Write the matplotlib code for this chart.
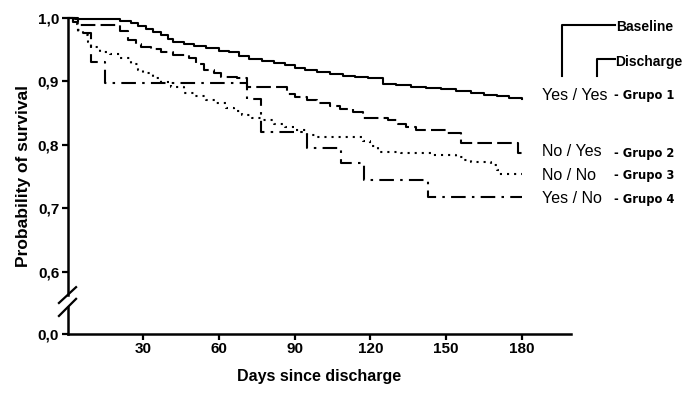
import matplotlib
matplotlib.use("Agg")
import matplotlib.pyplot as plt
from matplotlib.lines import Line2D

# Kaplan-Meier style step data (days, probability)
g1_days = [0, 3, 21, 25, 28, 31, 34, 37, 40, 42, 46, 50, 55, 60, 64, 68, 72, 77, 82, 86,
           90, 94, 99, 104, 109, 114, 119, 125, 130, 136, 142, 148, 154, 160, 165, 170, 175, 180]
g1_surv = [1.0, 0.997, 0.994, 0.991, 0.986, 0.982, 0.977, 0.972, 0.966, 0.961, 0.958, 0.955,
           0.952, 0.948, 0.945, 0.940, 0.935, 0.932, 0.929, 0.925, 0.921, 0.917, 0.914, 0.911,
           0.908, 0.906, 0.905, 0.896, 0.893, 0.891, 0.889, 0.887, 0.884, 0.881, 0.878, 0.876,
           0.873, 0.872]

g2_days = [0, 2, 5, 21, 24, 27, 29, 33, 37, 42, 48, 51, 54, 58, 61, 67, 71, 87, 90, 95, 99,
           104, 108, 113, 117, 127, 131, 134, 138, 150, 156, 178.5, 180]
g2_surv = [1.0, 0.993, 0.988, 0.978, 0.965, 0.958, 0.954, 0.950, 0.946, 0.941, 0.936, 0.927,
           0.917, 0.912, 0.906, 0.905, 0.890, 0.880, 0.875, 0.870, 0.865, 0.860, 0.856, 0.851,
           0.842, 0.838, 0.833, 0.828, 0.823, 0.818, 0.803, 0.787, 0.787]

g3_days = [0, 2, 4, 6, 8, 9.5, 13, 17, 21, 25, 28, 30, 34, 37, 41, 46, 50, 55, 59, 63, 66,
           69, 73, 77, 82, 86, 90, 95, 98, 117, 120, 123, 132, 145, 154, 157, 160, 168, 170,
           171, 180]
g3_surv = [1.0, 0.990, 0.980, 0.972, 0.962, 0.954, 0.946, 0.942, 0.936, 0.927, 0.918, 0.912,
           0.905, 0.899, 0.890, 0.881, 0.876, 0.870, 0.865, 0.858, 0.852, 0.846, 0.842, 0.838,
           0.833, 0.828, 0.823, 0.815, 0.812, 0.805, 0.797, 0.788, 0.786, 0.783, 0.780, 0.776,
           0.772, 0.768, 0.760, 0.753, 0.753]

g4_days = [0, 4, 9.5, 15, 71, 76.5, 95, 108.5, 117.5, 143, 180]
g4_surv = [1.0, 0.975, 0.930, 0.897, 0.872, 0.820, 0.795, 0.771, 0.744, 0.717, 0.717]

x_ticks = [30, 60, 90, 120, 150, 180]
y_zero = 0.5016  # where "0,0" sits on the broken axis
y_ticks = [y_zero, 0.6, 0.7, 0.8, 0.9, 1.0]
y_labels = ["0,0", "0,6", "0,7", "0,8", "0,9", "1,0"]

group_names = ["Yes / Yes", "No / Yes", "No / No", "Yes / No"]
group_tags = ["- Grupo 1", "- Grupo 2", "- Grupo 3", "- Grupo 4"]
label_y_px = [95, 152, 175, 198]

W, H = 695, 397
plt.rcParams['font.family'] = ['Liberation Sans', 'DejaVu Sans']

fig = plt.figure(figsize=(W / 100, H / 100), dpi=100)
ax = fig.add_axes([67.5 / W, (H - 334) / H, (571 - 67.5) / W, (334 - 17.5) / H])

lw = 1.5
ax.step(g1_days, g1_surv, where='post', color='black', lw=lw, clip_on=False)
ax.step(g2_days, g2_surv, where='post', color='black', lw=lw, linestyle=(0, (7, 2.5)), clip_on=False)
ax.step(g3_days, g3_surv, where='post', color='black', lw=lw, linestyle=(0, (1, 2.4)), clip_on=False)
ax.step(g4_days, g4_surv, where='post', color='black', lw=lw, linestyle=(0, (7, 3, 1.2, 3)), clip_on=False)

ax.set_xlim(0, 199.5)
ax.set_ylim(y_zero, 1.0)
ax.set_xticks(x_ticks)
ax.set_yticks(y_ticks)
ax.set_yticklabels(y_labels)
ax.tick_params(axis='both', direction='out', width=1.6, length=4.5, labelsize=11, pad=1.5)
for lab in ax.get_xticklabels() + ax.get_yticklabels():
    lab.set_fontweight('bold')

for s in ['top', 'right', 'left']:
    ax.spines[s].set_visible(False)
ax.spines['bottom'].set_linewidth(1.8)

# broken y axis
ax.plot([0, 0], [0, 0.084], transform=ax.transAxes, color='black', lw=1.8, clip_on=False)
ax.plot([0, 0], [0.123, 1.0], transform=ax.transAxes, color='black', lw=1.8, clip_on=False)
ax.plot([-0.017, 0.017], [0.098, 0.148], transform=ax.transAxes, color='black', lw=1.6, clip_on=False)
ax.plot([-0.017, 0.017], [0.057, 0.111], transform=ax.transAxes, color='black', lw=1.6, clip_on=False)

ax.set_xlabel("Days since discharge", fontsize=11.5, fontweight='bold', labelpad=9)
ax.set_ylabel("Probability of survival", fontsize=12.5, fontweight='bold', labelpad=5)

# group labels on the right
for name, tag, py in zip(group_names, group_tags, label_y_px):
    fig.text(542 / W, 1 - py / H, name, fontsize=11.5, va='center', ha='left')
    fig.text(614 / W, 1 - (py + 1) / H, tag, fontsize=8.3, fontweight='bold',
             family='DejaVu Sans', va='center', ha='left')

# Baseline / Discharge brackets
fig.add_artist(Line2D([562 / W, 562 / W, 615 / W], [1 - 76 / H, 1 - 25 / H, 1 - 25 / H],
                      color='black', lw=1.5))
fig.add_artist(Line2D([597 / W, 597 / W, 615 / W], [1 - 76 / H, 1 - 59 / H, 1 - 59 / H],
                      color='black', lw=1.5))
fig.text(616 / W, 1 - 27 / H, "Baseline", fontsize=10, fontweight='bold', va='center', ha='left')
fig.text(615 / W, 1 - 62 / H, "Discharge", fontsize=10, fontweight='bold', va='center', ha='left')

fig.savefig("out.png", dpi=100)
